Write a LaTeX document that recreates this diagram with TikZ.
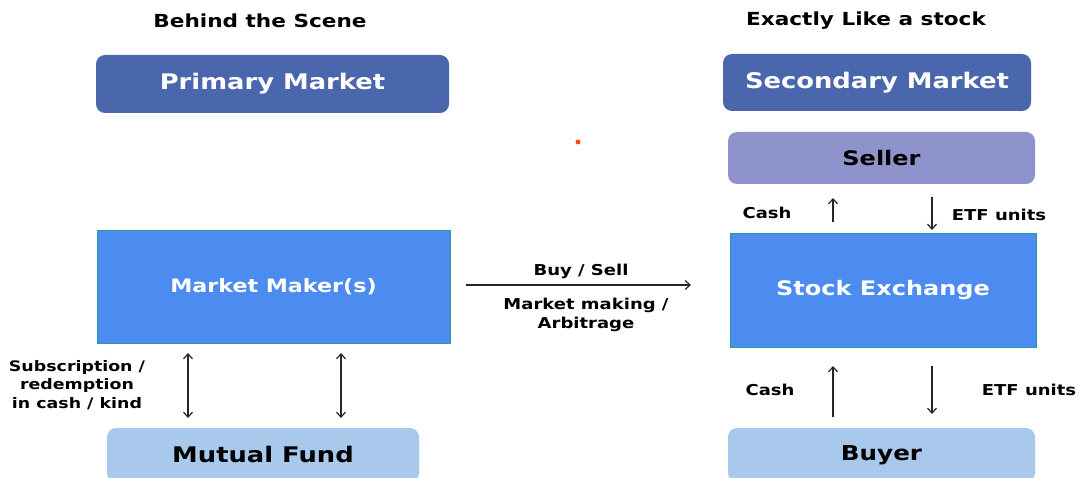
\documentclass[tikz,border=0pt]{standalone}
\usepackage{fontspec}
\setmainfont[FakeStretch=1.2]{DejaVu Sans}
\usetikzlibrary{arrows.meta}
\definecolor{darkblue}{HTML}{4A66AC}
\definecolor{midblue}{HTML}{4C8BF0}
\definecolor{tealb}{HTML}{2A9A9A}
\definecolor{lav}{HTML}{8F93CC}
\definecolor{lightb}{HTML}{A8C8EC}
\definecolor{dotor}{HTML}{F05020}
\newcommand{\fsz}[1]{\bfseries\fontsize{#1}{#1}\selectfont}
\tikzset{
  box/.style={inner sep=0pt, font=\fsz{21.5}},
  hdr/.style={box, rounded corners=9pt, fill=darkblue, draw=none, text=white},
  bigbox/.style={box, fill=midblue, draw=tealb, line width=1pt, text=white},
  lavbox/.style={box, rounded corners=9pt, fill=lav, draw=none, text=black},
  lbbox/.style={box, rounded corners=9pt, fill=lightb, draw=none, text=black},
  ttl/.style={font=\fsz{18}},
  lbl/.style={font=\fsz{15}, align=center},
  arr/.style={-{Straight Barb[length=5pt,width=9pt]}, line width=1.2pt, black!85},
  darr/.style={{Straight Barb[length=5pt,width=9pt]}-{Straight Barb[length=5pt,width=9pt]}, line width=1.2pt, black!85},
}
\begin{document}
\begin{tikzpicture}[x=1pt,y=-1pt]
\useasboundingbox (0,0) rectangle (1086,478);
\node[ttl] (t1) at (260,21) {Behind the Scene};
\node[ttl] (t2) at (866,21) {Exactly Like a stock};
\node[hdr, minimum width=353pt, minimum height=58pt] (pm) at (272.5,84) {\raisebox{-2pt}{Primary Market}};
\node[hdr, minimum width=308pt, minimum height=57pt] (sm) at (877,82.5) {\raisebox{-2pt}{Secondary Market}};
\node[lavbox, minimum width=307pt, minimum height=52pt, font=\fsz{20}] (sel) at (881.5,158) {\raisebox{-1pt}{Seller}};
\fill[dotor] (578,142) circle (2.5);
\node[bigbox, minimum width=353pt, minimum height=112pt, font=\fsz{18.5}] (mm) at (273.5,287) {\raisebox{-2pt}{Market Maker(s)}};
\node[bigbox, minimum width=306pt, minimum height=113pt, font=\fsz{20}] (se) at (883,290.5) {\raisebox{-1pt}{Stock Exchange}};
\node[lbbox, minimum width=312pt, minimum height=54pt] (mf) at (263,455) {\raisebox{2pt}{Mutual Fund}};
\node[lbbox, minimum width=307pt, minimum height=54pt, font=\fsz{20.5}] (buy) at (881.5,455) {\raisebox{2pt}{Buyer}};
% buy/sell arrow
\coordinate (a1) at (466,285);
\coordinate (a2) at (691,285);
\draw[arr] (a1) -- (a2);
\node[lbl] (bs) at (581,271) {Buy / Sell};
\node[lbl, font=\bfseries\fontsize{15}{19.5}\selectfont] (mk) at (586,315) {Market making /\\Arbitrage};
% double arrows
\coordinate (d1a) at (188,353); \coordinate (d1b) at (188,418);
\coordinate (d2a) at (341,353); \coordinate (d2b) at (341,418);
\draw[darr] (d1a) -- (d1b);
\draw[darr] (d2a) -- (d2b);
\node[lbl, font=\bfseries\fontsize{14.5}{18.5}\selectfont] (sub) at (77,385) {Subscription /\\redemption\\in cash / kind};
% seller arrows
\coordinate (s1a) at (833,222); \coordinate (s1b) at (833,198);
\coordinate (s2a) at (932,197); \coordinate (s2b) at (932,230);
\draw[arr] (s1a) -- (s1b);
\draw[arr] (s2a) -- (s2b);
\node[lbl] (c1) at (767,213) {Cash};
\node[lbl] (e1) at (999,215) {ETF units};
% buyer arrows
\coordinate (b1a) at (833,417); \coordinate (b1b) at (833,366);
\coordinate (b2a) at (932,366); \coordinate (b2b) at (932,414);
\draw[arr] (b1a) -- (b1b);
\draw[arr] (b2a) -- (b2b);
\node[lbl] (c2) at (770,390) {Cash};
\node[lbl] (e2) at (1029,390) {ETF units};
\end{tikzpicture}
\end{document}
